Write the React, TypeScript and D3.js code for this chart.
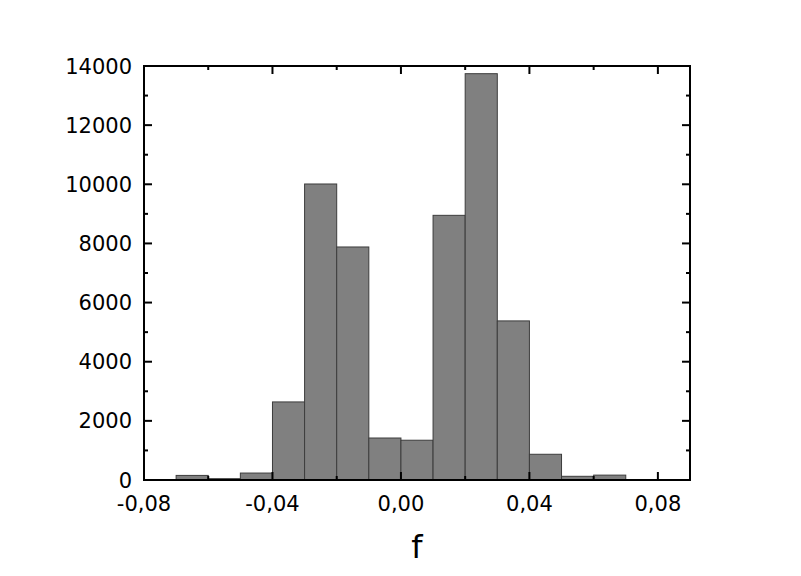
import React from "react";
import * as d3 from "d3";

const binStarts = [-0.07, -0.06, -0.05, -0.04, -0.03, -0.02, -0.01, 0.0, 0.01, 0.02, 0.03, 0.04, 0.05, 0.06];
const counts = [155, 45, 235, 2640, 10010, 7880, 1420, 1345, 8950, 13740, 5380, 870, 125, 165];
const binWidth = 0.01;
const xMajorTicks = [-0.08, -0.04, 0.0, 0.04, 0.08];
const xMinorTicks = [-0.06, -0.02, 0.02, 0.06];
const yMajorTicks = [0, 2000, 4000, 6000, 8000, 10000, 12000, 14000];
const yMinorTicks = [1000, 3000, 5000, 7000, 9000, 11000, 13000];
const xLabel = "f";

const W = 801, H = 576;
const L = 144, R = 690, T = 66, B = 480;

export default function App() {
  const x = d3.scaleLinear().domain([-0.08, 0.09]).range([L, R]);
  const y = d3.scaleLinear().domain([0, 14000]).range([B, T]);
  const fmtX = (v: number) => d3.format(".2f")(v).replace("−", "-").replace(".", ",");
  const font = "'DejaVu Sans', sans-serif";
  const major = 8, minor = 4;
  return (
    <svg width={W} height={H} style={{ position: "absolute", left: 0, top: 0, background: "#fff" }}>
      <rect x={0} y={0} width={W} height={H} fill="#fff" />
      {binStarts.map((s, i) => (
        <rect key={i} x={x(s)} y={y(counts[i])} width={x(s + binWidth) - x(s)} height={B - y(counts[i])}
          fill="#808080" stroke="#3c3c3c" strokeWidth={1} />
      ))}
      <rect x={L} y={T} width={R - L} height={B - T} fill="none" stroke="#000" strokeWidth={2} />
      {xMajorTicks.map((t) => (
        <g key={"xm" + t}>
          <line x1={x(t)} x2={x(t)} y1={B} y2={B - major} stroke="#000" strokeWidth={2} />
          <line x1={x(t)} x2={x(t)} y1={T} y2={T + major} stroke="#000" strokeWidth={2} />
          <text x={x(t)} y={511} textAnchor="middle" fontFamily={font} fontSize={21}>{fmtX(t)}</text>
        </g>
      ))}
      {xMinorTicks.map((t) => (
        <g key={"xn" + t}>
          <line x1={x(t)} x2={x(t)} y1={B} y2={B - minor} stroke="#000" strokeWidth={2} />
          <line x1={x(t)} x2={x(t)} y1={T} y2={T + minor} stroke="#000" strokeWidth={2} />
        </g>
      ))}
      {yMajorTicks.map((t) => (
        <g key={"ym" + t}>
          <line x1={L} x2={L + major} y1={y(t)} y2={y(t)} stroke="#000" strokeWidth={2} />
          <line x1={R} x2={R - major} y1={y(t)} y2={y(t)} stroke="#000" strokeWidth={2} />
          <text x={132} y={y(t) + 7.5} textAnchor="end" fontFamily={font} fontSize={21}>{String(t)}</text>
        </g>
      ))}
      {yMinorTicks.map((t) => (
        <g key={"yn" + t}>
          <line x1={L} x2={L + minor} y1={y(t)} y2={y(t)} stroke="#000" strokeWidth={2} />
          <line x1={R} x2={R - minor} y1={y(t)} y2={y(t)} stroke="#000" strokeWidth={2} />
        </g>
      ))}
      <text x={(L + R) / 2} y={558} textAnchor="middle" fontFamily={font} fontSize={32}>{xLabel}</text>
    </svg>
  );
}
